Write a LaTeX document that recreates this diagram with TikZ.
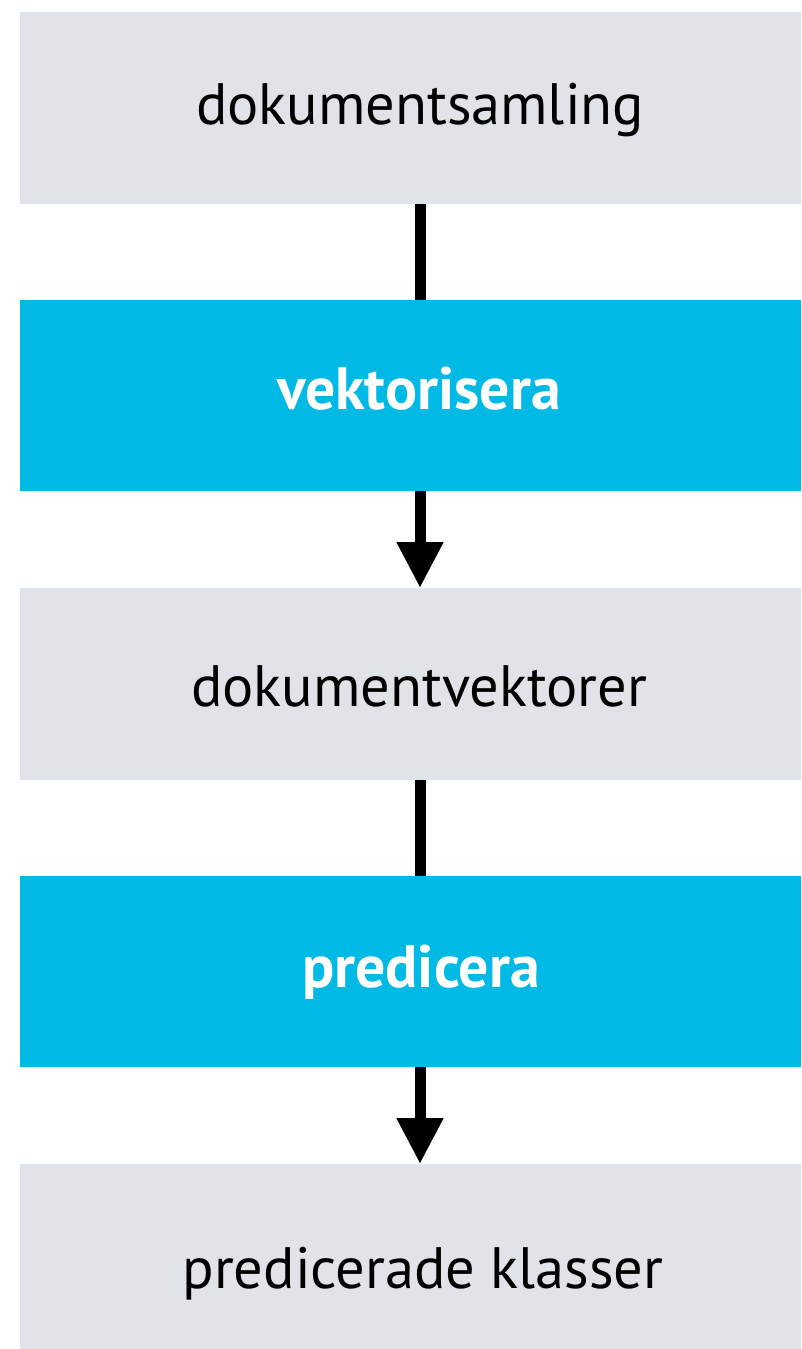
\documentclass[tikz,border=0pt]{standalone}
\usepackage{fontspec}
\setmainfont{PT Sans}
\usetikzlibrary{arrows.meta}
\definecolor{boxgray}{HTML}{E0E3E8}
\definecolor{boxcyan}{HTML}{00B9E4}
\begin{document}
\begin{tikzpicture}[x=1pt,y=1pt,
  graybox/.style={fill=boxgray,draw=none,rectangle,anchor=north west,minimum width=781pt,inner sep=0pt},
  cyanbox/.style={fill=boxcyan,draw=none,rectangle,anchor=north west,minimum width=781pt,inner sep=0pt},
  graytxt/.style={anchor=base,inner sep=0pt,font=\fontsize{58.4}{68}\selectfont,text=black},
  cyantxt/.style={anchor=base,inner sep=0pt,font=\fontsize{59.8}{68}\selectfont\bfseries,text=white},
  conn/.style={line width=11pt,black,line cap=butt},
  arr/.style={conn,-{Triangle[width=44pt,length=46pt]}}]
\useasboundingbox (0,0) rectangle (801,-1349);
\node[graybox,minimum height=192pt] (b1) at (20,-12) {};
\node[cyanbox,minimum height=191pt] (b2) at (20,-300) {};
\node[graybox,minimum height=192pt] (b3) at (20,-588) {};
\node[cyanbox,minimum height=191pt] (b4) at (20,-876) {};
\node[graybox,minimum height=185pt] (b5) at (20,-1164) {};
\coordinate (c1s) at (420,-204);
\coordinate (c2n) at (420,-300);
\coordinate (c2s) at (420,-491);
\coordinate (c3n) at (420,-588);
\coordinate (c3s) at (420,-780);
\coordinate (c4n) at (420,-876);
\coordinate (c4s) at (420,-1067);
\coordinate (c5n) at (420,-1164);
\draw[conn] (c1s) -- (c2n);
\draw[arr] (c2s) -- (c3n);
\draw[conn] (c3s) -- (c4n);
\draw[arr] (c4s) -- (c5n);
\node[graytxt] (t1) at (420,-124) {dokumentsamling};
\node[cyantxt] (t2) at (419,-409) {vektorisera};
\node[graytxt] (t3) at (419,-706) {dokumentvektorer};
\node[cyantxt] (t4) at (421,-987) {predicera};
\node[graytxt] (t5) at (423,-1288) {predicerade klasser};
\end{tikzpicture}
\end{document}
